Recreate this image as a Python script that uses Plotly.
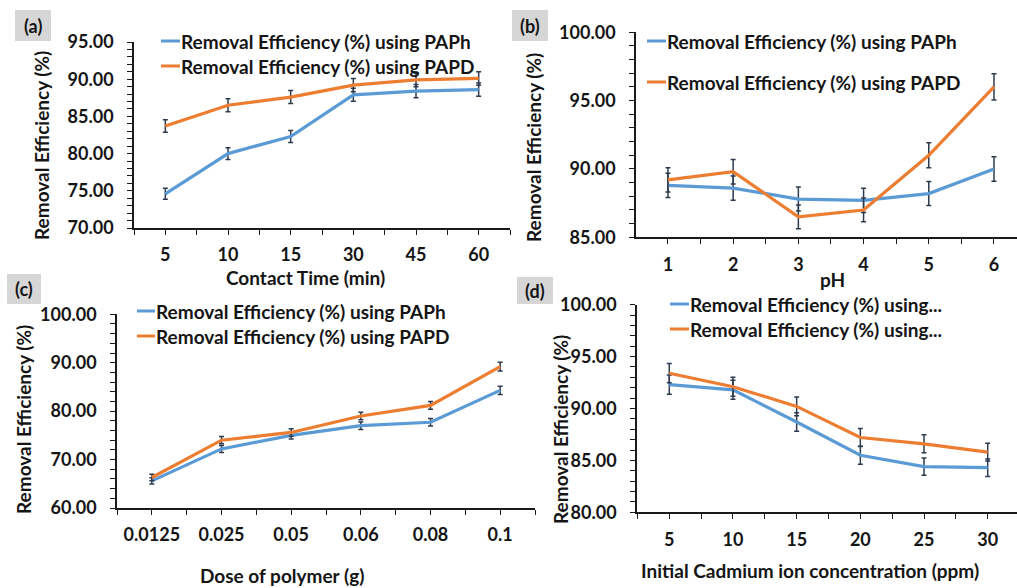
import plotly.graph_objects as go

# ---- data -------------------------------------------------------------
contact_time = ["5", "10", "15", "30", "45", "60"]
time_paph = [74.6, 80.0, 82.3, 87.9, 88.4, 88.6]
time_papd = [83.7, 86.5, 87.6, 89.2, 89.9, 90.1]
time_paph_err = [0.75, 0.80, 0.82, 0.88, 0.88, 0.89]
time_papd_err = [0.84, 0.87, 0.88, 0.89, 0.90, 0.90]

ph_values = ["1", "2", "3", "4", "5", "6"]
ph_paph = [88.8, 88.6, 87.8, 87.7, 88.2, 90.0]
ph_papd = [89.2, 89.8, 86.5, 87.0, 91.0, 96.0]
ph_paph_err = [0.89, 0.89, 0.88, 0.88, 0.88, 0.90]
ph_papd_err = [0.89, 0.90, 0.87, 0.87, 0.91, 0.96]

polymer_dose = ["0.0125", "0.025", "0.05", "0.06", "0.08", "0.1"]
dose_paph = [65.6, 72.2, 75.0, 77.0, 77.7, 84.3]
dose_papd = [66.3, 74.0, 75.6, 79.0, 81.2, 89.2]
dose_paph_err = [0.66, 0.72, 0.75, 0.77, 0.78, 0.84]
dose_papd_err = [0.66, 0.74, 0.76, 0.79, 0.81, 0.89]

cd_conc = ["5", "10", "15", "20", "25", "30"]
conc_paph = [92.3, 91.8, 88.7, 85.5, 84.4, 84.3]
conc_papd = [93.4, 92.1, 90.2, 87.2, 86.6, 85.8]
conc_paph_err = [0.92, 0.92, 0.89, 0.86, 0.84, 0.84]
conc_papd_err = [0.93, 0.92, 0.90, 0.87, 0.87, 0.86]

series_names = ["Removal Efficiency (%) using PAPh", "Removal Efficiency (%) using PAPD"]
short_names = ["Removal Efficiency (%) using...", "Removal Efficiency (%) using..."]

# ---- styling ----------------------------------------------------------
W, H = 1017, 588
BLUE = "#5B9BD5"
ORANGE = "#ED7D31"
ERR = "#2E3B4E"
TXT = "#151515"
AXC = "#1a1a1a"
FONT = "Lato"
LABEL_SIZE = 19


def px(x):
    return x / W


def py(y):
    return 1 - y / H


panels = [
    dict(cats=contact_time, s1=time_paph, s2=time_papd, e1=time_paph_err, e2=time_papd_err,
         xdom=(134, 510), ydom=(42, 228), xr=(-0.5, 5.5), yr=(70, 95), dt=5, mdt=1,
         xtitle="Contact Time (min)", xt_pos=(305, 277), yt_pos=(42, 146),
         names=series_names, leg=(161, 180, 41, 66), tag="(a)", box=(15, 51, 10, 41)),
    dict(cats=ph_values, s1=ph_paph, s2=ph_papd, e1=ph_paph_err, e2=ph_papd_err,
         xdom=(636, 1017), ydom=(32.3, 237.3), xr=(-0.49, 5.353), yr=(85, 100), dt=5, mdt=1,
         xtitle="pH", xt_pos=(832, 279), yt_pos=(533, 148),
         names=series_names, leg=(647, 666, 41, 82), tag="(b)", box=(512, 548, 10, 41)),
    dict(cats=polymer_dose, s1=dose_paph, s2=dose_papd, e1=dose_paph_err, e2=dose_papd_err,
         xdom=(117, 535), ydom=(314.3, 508), xr=(-0.5, 5.5), yr=(60, 100), dt=10, mdt=2,
         xtitle="Dose of polymer (g)", xt_pos=(282, 575), yt_pos=(23, 420),
         names=series_names, leg=(137, 155, 311, 336), tag="(c)", box=(7, 41, 274, 304)),
    dict(cats=cd_conc, s1=conc_paph, s2=conc_papd, e1=conc_paph_err, e2=conc_papd_err,
         xdom=(637, 1017), ydom=(304.7, 512.3), xr=(-0.507, 5.46), yr=(80, 100), dt=5, mdt=1,
         xtitle="Initial Cadmium ion concentration (ppm)", xt_pos=(810, 570), yt_pos=(560, 430),
         names=short_names, leg=(670, 689, 304, 329), tag="(d)", box=(517, 553, 277, 304)),
]

fig = go.Figure()
shapes = []
annotations = []

for i, p in enumerate(panels, start=1):
    xa = "x" if i == 1 else f"x{i}"
    ya = "y" if i == 1 else f"y{i}"
    idx = list(range(len(p["cats"])))
    for vals, errs, color in ((p["s1"], p["e1"], BLUE), (p["s2"], p["e2"], ORANGE)):
        fig.add_trace(go.Scatter(
            x=idx, y=vals, mode="lines", xaxis=xa, yaxis=ya, showlegend=False,
            line=dict(color=color, width=3.2),
            error_y=dict(type="data", array=errs, visible=True, color=ERR,
                         thickness=1.5, width=2.5),
        ))

    axis_common = dict(showgrid=False, zeroline=False, showline=True, automargin=False,
                       linecolor=AXC, linewidth=1.6,
                       ticks="outside", ticklen=5, tickwidth=1.4, tickcolor=AXC,
                       tickfont=dict(family=FONT, size=18, color=TXT, weight="bold"))
    x0, x1 = p["xdom"]
    y0, y1 = p["ydom"]
    fig.layout[f"xaxis{i if i > 1 else ''}"] = dict(
        axis_common, domain=[px(x0), px(x1)], anchor=ya, range=list(p["xr"]),
        tickmode="array", tickvals=idx, ticktext=p["cats"], ticklabelstandoff=5,
        minor=dict(ticks="outside", ticklen=5, tickwidth=1.4, tickcolor=AXC,
                   tickvals=[k - 0.5 for k in range(len(p["cats"]) + 1)]),
    )
    fig.layout[f"yaxis{i if i > 1 else ''}"] = dict(
        axis_common, domain=[py(y1), py(y0)], anchor=xa, range=list(p["yr"]),
        dtick=p["dt"], tick0=p["yr"][0], tickformat=".2f", ticklabelstandoff=10,
        minor=dict(ticks="outside", ticklen=5, tickwidth=1.4, tickcolor=AXC, dtick=p["mdt"]),
    )

    # axis titles
    annotations.append(dict(text=p["xtitle"], x=px(p["xt_pos"][0]), y=py(p["xt_pos"][1]),
                            xref="paper", yref="paper", showarrow=False,
                            xanchor="center", yanchor="middle",
                            font=dict(family=FONT, size=LABEL_SIZE, color=TXT, weight="bold")))
    annotations.append(dict(text="Removal Efficiency (%)", x=px(p["yt_pos"][0]), y=py(p["yt_pos"][1]),
                            xref="paper", yref="paper", showarrow=False, textangle=-90,
                            xanchor="center", yanchor="middle",
                            font=dict(family=FONT, size=LABEL_SIZE, color=TXT, weight="bold")))

    # legend entries
    lx0, lx1, ly1, ly2 = p["leg"]
    for name, color, ly in ((p["names"][0], BLUE, ly1), (p["names"][1], ORANGE, ly2)):
        shapes.append(dict(type="line", xref="paper", yref="paper",
                           x0=px(lx0), x1=px(lx1), y0=py(ly), y1=py(ly),
                           line=dict(color=color, width=3)))
        annotations.append(dict(text=name, x=px(lx1 - 1), y=py(ly), xref="paper", yref="paper",
                                showarrow=False, xanchor="left", yanchor="middle",
                                font=dict(family=FONT, size=LABEL_SIZE, color=TXT, weight="bold")))

    # panel tag
    bx0, bx1, by0, by1 = p["box"]
    shapes.append(dict(type="rect", xref="paper", yref="paper",
                       x0=px(bx0), x1=px(bx1), y0=py(by1), y1=py(by0),
                       fillcolor="#D6D6D6", line=dict(width=0), layer="below"))
    annotations.append(dict(text=p["tag"], x=px((bx0 + bx1) / 2), y=py((by0 + by1) / 2),
                            xref="paper", yref="paper", showarrow=False,
                            xanchor="center", yanchor="middle",
                            font=dict(family=FONT, size=18, color=TXT, weight="bold")))

fig.update_layout(
    width=W, height=H, margin=dict(l=0, r=0, t=0, b=0, autoexpand=False),
    paper_bgcolor="white", plot_bgcolor="white",
    shapes=shapes, annotations=annotations, showlegend=False,
)

fig.write_html("out.html")
